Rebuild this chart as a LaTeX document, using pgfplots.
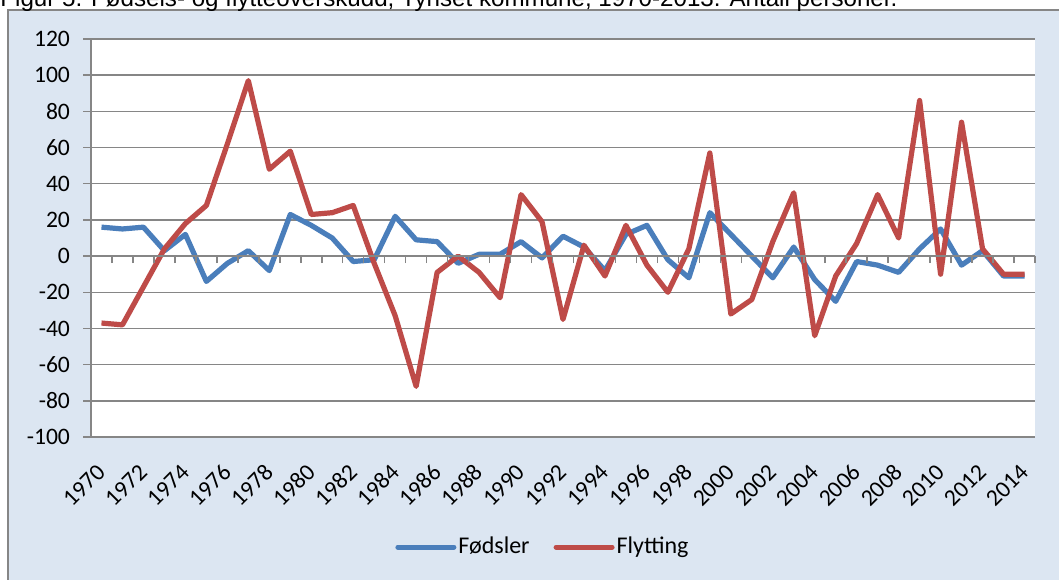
\documentclass[border=0pt]{standalone}
\usepackage{pgfplots}
\pgfplotsset{compat=1.18}
\usepackage{pgfplotstable}
\usepackage{fontspec}
\setmainfont{Carlito}
\newfontfamily\titlefont{Liberation Sans}
\definecolor{serblue}{HTML}{4A7EBB}
\definecolor{serred}{HTML}{BE4B48}
\definecolor{bgblue}{HTML}{DCE6F2}
\definecolor{gridgray}{HTML}{868686}

\pgfplotstableread{
year val
1970 16
1971 15
1972 16
1973 3
1974 12
1975 -14
1976 -4
1977 3
1978 -8
1979 23
1980 17
1981 10
1982 -3
1983 -2
1984 22
1985 9
1986 8
1987 -4
1988 1
1989 1
1990 8
1991 -1
1992 11
1993 5
1994 -8
1995 12
1996 17
1997 -2
1998 -12
1999 24
2000 12
2001 0
2002 -12
2003 5
2004 -13
2005 -25
2006 -3
2007 -5
2008 -9
2009 4
2010 15
2011 -5
2012 3
2013 -11
2014 -11
}\fodsler

\pgfplotstableread{
year val
1970 -37
1971 -38
1972 -17
1973 4
1974 18
1975 28
1976 62
1977 97
1978 48
1979 58
1980 23
1981 24
1982 28
1983 -4
1984 -33
1985 -72
1986 -9
1987 0
1988 -9
1989 -23
1990 34
1991 19
1992 -35
1993 6
1994 -11
1995 17
1996 -5
1997 -20
1998 4
1999 57
2000 -32
2001 -24
2002 8
2003 35
2004 -44
2005 -11
2006 7
2007 34
2008 10
2009 86
2010 -10
2011 74
2012 4
2013 -10
2014 -10
}\flytting

\begin{document}
\begin{tikzpicture}
\useasboundingbox (0pt,0pt) rectangle (529.5pt,-289.5pt);
\clip (0pt,0pt) rectangle (529.5pt,-289.5pt);
\draw[gridgray, line width=0.75pt, fill=bgblue] (4pt,-5pt) rectangle (540pt,-300pt);
\node[anchor=base west, inner sep=0pt] at (0pt,-3pt)
  {\resizebox{448.5pt}{!}{\titlefont Figur 5. Fødsels- og flytteoverskudd, Tynset kommune, 1970-2013. Antall personer.}};

\begin{axis}[
  at={(45.5pt,-218.5pt)}, anchor=south west,
  scale only axis, width=472pt, height=199pt,
  xmin=1969.5, xmax=2014.5, ymin=-100, ymax=120,
  ytick={-100,-80,...,120},
  xtick={1970,1972,...,2014},
  xticklabel={\pgfmathprintnumber[1000 sep={}]{\tick}},
  axis x line*=bottom, axis y line*=left,
  axis line style={gridgray, line width=0.75pt, -},
  ymajorgrids, grid style={gridgray, line width=0.75pt},
  tick style={gridgray, line width=0.75pt},
  tick align=outside,
  x tick style={draw=none},
  major tick length=4pt,
  /pgf/number format/assume math mode=true,
  yticklabel style={font=\fontsize{11.8}{13}\selectfont, text=black, xshift=-3pt},
  xticklabel style={font=\fontsize{11.8}{13}\selectfont, text=black, yshift=-11.5pt, rotate=45, anchor=east, inner sep=0pt},
  axis background/.style={fill=white},
  clip=false,
  legend style={at={(0.4788,-0.2764)}, anchor=center, draw=none, fill=none,
    font=\fontsize{12}{14}\selectfont, inner sep=0pt,
    nodes={inner sep=1pt}},
  legend columns=2,
  legend cell align=left,
  /tikz/every even column/.append style={column sep=11pt},
  legend image code/.code={\draw[#1, line width=2.5pt, line cap=round] (0pt,0pt) -- (28pt,0pt);},
]
\addplot[serblue, line width=2.6pt, line join=round] table[x=year, y=val] {\fodsler};
\addlegendentry{Fødsler}
\addplot[serred, line width=2.6pt, line join=round] table[x=year, y=val] {\flytting};
\addlegendentry{Flytting}
\end{axis}

\begin{axis}[
  at={(45.5pt,-218.5pt)}, anchor=south west,
  scale only axis, width=472pt, height=199pt,
  xmin=1969.5, xmax=2014.5, ymin=-100, ymax=120,
  axis x line=middle, axis y line=none,
  axis line style={gridgray, line width=0.75pt, -},
  xtick={1969.5,1970.5,...,2014.5},
  xticklabels={},
  tick style={gridgray, line width=0.75pt},
  tick align=outside,
  major tick length=3.5pt,
  ytick=\empty,
]
\addplot[draw=none] coordinates {(1970,0)};
\end{axis}
\end{tikzpicture}
\end{document}
